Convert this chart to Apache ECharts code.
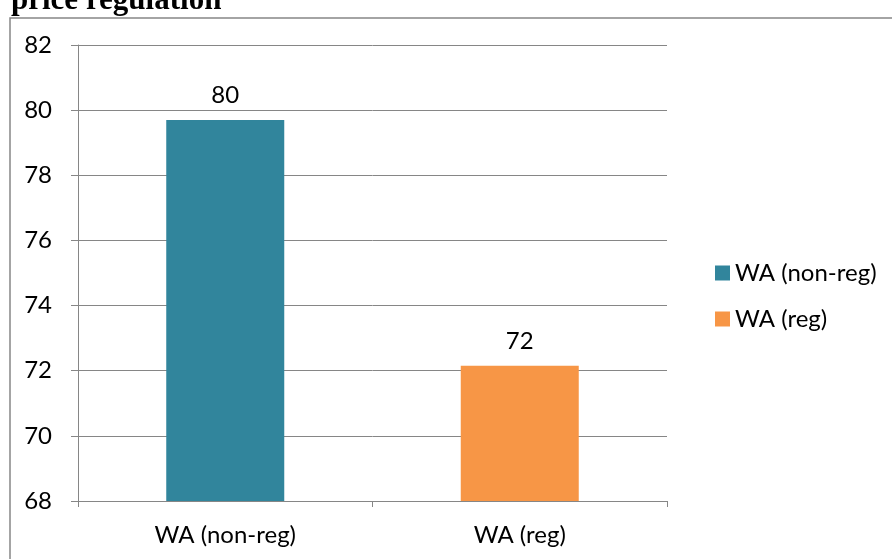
<!DOCTYPE html>
<html>
<head>
<meta charset="utf-8">
<script src="https://cdn.jsdelivr.net/npm/echarts@6/dist/echarts.min.js"></script>
<style>
  html, body { margin: 0; padding: 0; background: #fff; }
  #chart { width: 892px; height: 559px; }
</style>
</head>
<body>
<div id="chart"></div>
<script>
var categories = ['WA (non-reg)', 'WA (reg)'];
var seriesNames = ['WA (non-reg)', 'WA (reg)'];
var nonRegValues = [79.7, '-'];
var regValues = ['-', 72.15];
var colors = ['#31859C', '#F79646'];

var chart = echarts.init(document.getElementById('chart'));
var font = 'Lato, "Open Sans", sans-serif';

function barLabel() {
    return {
        show: true,
        position: 'top',
        distance: 13,
        fontFamily: font,
        fontSize: 24,
        color: '#000',
        formatter: function (p) { return Math.round(p.value); }
    };
}

var option = {
    animation: false,
    title: {
        text: 'price regulation',
        left: 6,
        top: -20,
        textStyle: {
            fontFamily: '"Liberation Serif", "DejaVu Serif", serif',
            fontWeight: 'bold',
            fontSize: 31,
            color: '#000'
        }
    },
    graphic: [{
        type: 'rect',
        shape: { x: 10, y: 18, width: 900, height: 600 },
        style: { fill: 'none', stroke: '#868686', lineWidth: 1.5 },
        silent: true
    }],
    legend: {
        orient: 'vertical',
        left: 710,
        top: 256,
        itemWidth: 15,
        itemHeight: 15,
        itemGap: 22,
        icon: 'rect',
        data: seriesNames,
        textStyle: { fontFamily: font, fontSize: 24, color: '#000' }
    },
    grid: {
        left: 78,
        right: 225,
        top: 45,
        bottom: 58
    },
    xAxis: {
        type: 'category',
        data: categories,
        axisLine: { lineStyle: { color: '#868686', width: 1 } },
        axisTick: { show: true, length: 6, lineStyle: { color: '#868686' } },
        axisLabel: { fontFamily: font, fontSize: 24, color: '#000', margin: 22 }
    },
    yAxis: {
        type: 'value',
        min: 68,
        max: 82,
        interval: 2,
        axisLine: { show: true, lineStyle: { color: '#868686', width: 1 } },
        axisTick: { show: true, length: 7, lineStyle: { color: '#868686' } },
        axisLabel: { fontFamily: font, fontSize: 24, color: '#000', margin: 26 },
        splitLine: { lineStyle: { color: '#868686', width: 1 } }
    },
    series: [
        {
            name: seriesNames[0],
            type: 'bar',
            data: nonRegValues,
            barWidth: 118,
            barGap: '-100%',
            itemStyle: { color: colors[0] },
            label: barLabel()
        },
        {
            name: seriesNames[1],
            type: 'bar',
            data: regValues,
            barWidth: 118,
            itemStyle: { color: colors[1] },
            label: barLabel()
        }
    ]
};
chart.setOption(option);
</script>
</body>
</html>
